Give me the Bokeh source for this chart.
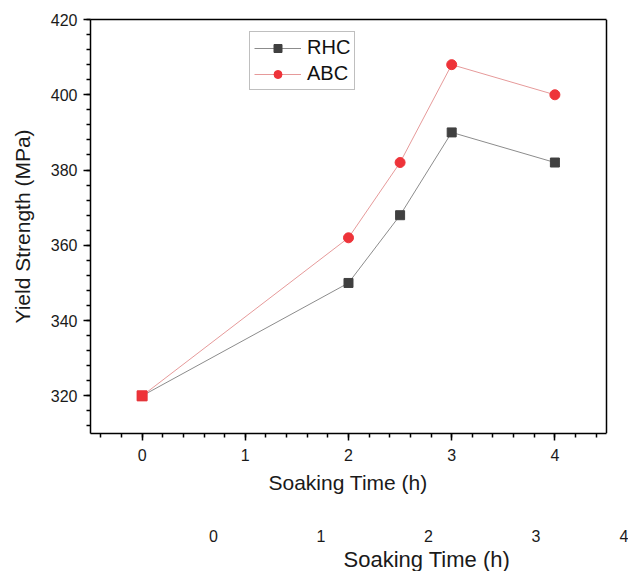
from bokeh.plotting import figure
from bokeh.models import (Range1d, LinearAxis, SingleIntervalTicker, FixedTicker,
                          Legend, LegendItem, Span, Title, ColumnDataSource)
from bokeh.embed import file_html
from bokeh.resources import INLINE

# ---- data ----
soaking_time = [0, 2, 2.5, 3, 4]
rhc_strength = [320, 350, 368, 390, 382]
abc_strength = [320, 362, 382, 408, 400]
abc_markers = ["square", "circle", "circle", "circle", "circle"]
x_bounds = (-0.5, 4.5)
y_bounds = (310, 420)
x2_ticks = [0, 1, 2, 3]
x2_edge_tick = 3.85          # the cut-off "4" at the page's right edge
x2_edge_label = "4"

FONT = "Liberation Sans"
INK = "#1a1a1a"

p = figure(width=628, height=571, output_backend="svg", toolbar_location=None,
           x_range=Range1d(-0.5, 4.7132), y_range=Range1d(*y_bounds),
           min_border_left=90, min_border_right=0, min_border_top=19,
           min_border_bottom=137)
p.xgrid.visible = False
p.ygrid.visible = False
p.outline_line_color = None
p.background_fill_color = "white"
p.border_fill_color = "white"

# main axes
for ax in (p.xaxis[0], p.yaxis[0]):
    ax.axis_line_width = 1.5
    ax.axis_line_color = "black"
    ax.major_tick_line_width = 1.5
    ax.minor_tick_line_width = 1.5
    ax.major_tick_in = 0
    ax.minor_tick_in = 0
    ax.major_tick_out = 7
    ax.minor_tick_out = 4
    ax.major_label_text_font = FONT
    ax.major_label_text_font_size = "16px"
    ax.major_label_text_color = INK
    ax.axis_label_text_font = FONT
    ax.axis_label_text_font_size = "21px"
    ax.axis_label_text_font_style = "normal"
    ax.axis_label_text_color = INK

p.xaxis[0].ticker = SingleIntervalTicker(interval=1, num_minor_ticks=5)
p.xaxis[0].bounds = x_bounds
p.yaxis[0].ticker = SingleIntervalTicker(interval=20, num_minor_ticks=5)
p.yaxis[0].axis_label = "Yield Strength (MPa)"
p.xaxis[0].major_label_standoff = 8
p.yaxis[0].major_label_standoff = 6
p.yaxis[0].axis_label_standoff = 14

# frame: top border (bounded axis) and right border (span)
top_ax = LinearAxis(bounds=x_bounds, ticker=FixedTicker(ticks=[]))
top_ax.axis_line_width = 1.5
top_ax.axis_line_color = "black"
top_ax.major_tick_out = 0
top_ax.major_tick_in = 0
top_ax.major_label_text_font_size = "0px"
top_ax.major_label_standoff = 0
p.add_layout(top_ax, "above")
p.add_layout(Span(location=x_bounds[1], dimension="height",
                  line_color="black", line_width=1.5))

# main x-axis title (centred under the bounded axis)
p.add_layout(Title(text="Soaking Time (h)", align="left", offset=178, standoff=11,
                   text_font=FONT, text_font_size="21px", text_font_style="normal",
                   text_color=INK), "below")

# second (offset) bottom axis
p.extra_x_ranges = {"x2": Range1d(-1.1442, 3.8605)}
ax2 = LinearAxis(x_range_name="x2",
                 ticker=FixedTicker(ticks=x2_ticks + [x2_edge_tick]),
                 major_label_overrides={x2_edge_tick: x2_edge_label})
ax2.axis_line_alpha = 0
ax2.major_tick_line_alpha = 0
ax2.minor_tick_line_alpha = 0
ax2.major_tick_out = 0
ax2.major_tick_in = 0
ax2.major_label_standoff = 30
ax2.major_label_text_font = FONT
ax2.major_label_text_font_size = "16px"
ax2.major_label_text_color = INK
p.add_layout(ax2, "below")

p.add_layout(Title(text="Soaking Time (h)", align="left", offset=253, standoff=0,
                   text_font=FONT, text_font_size="22px", text_font_style="normal",
                   text_color=INK), "below")

# series
rhc_src = ColumnDataSource(dict(x=soaking_time, y=rhc_strength))
abc_src = ColumnDataSource(dict(x=soaking_time, y=abc_strength, m=abc_markers))

r_line = p.line("x", "y", source=rhc_src, line_color="#8c8c8c", line_width=1)
r_pts = p.scatter("x", "y", source=rhc_src, marker="square", size=9,
                  fill_color="#404040", line_color="#404040")
a_line = p.line("x", "y", source=abc_src, line_color="#e69a9a", line_width=1)
a_pts = p.scatter("x", "y", source=abc_src, marker="m", size=10,
                  fill_color="#ee3339", line_color="#ee3339")

legend = Legend(items=[LegendItem(label="RHC", renderers=[r_line, r_pts], index=0),
                       LegendItem(label="ABC", renderers=[a_line, a_pts], index=1)],
                location=(159, 343))
legend.label_text_font = FONT
legend.label_text_font_size = "20px"
legend.label_text_color = "#111111"
legend.glyph_width = 47
legend.glyph_height = 20
legend.label_height = 20
legend.label_standoff = 6
legend.spacing = 3
legend.padding = 4
legend.margin = 0
legend.border_line_color = "#808080"
legend.border_line_width = 1
legend.background_fill_alpha = 1
p.add_layout(legend, "center")

open("out.html", "w").write(file_html(p, INLINE))
